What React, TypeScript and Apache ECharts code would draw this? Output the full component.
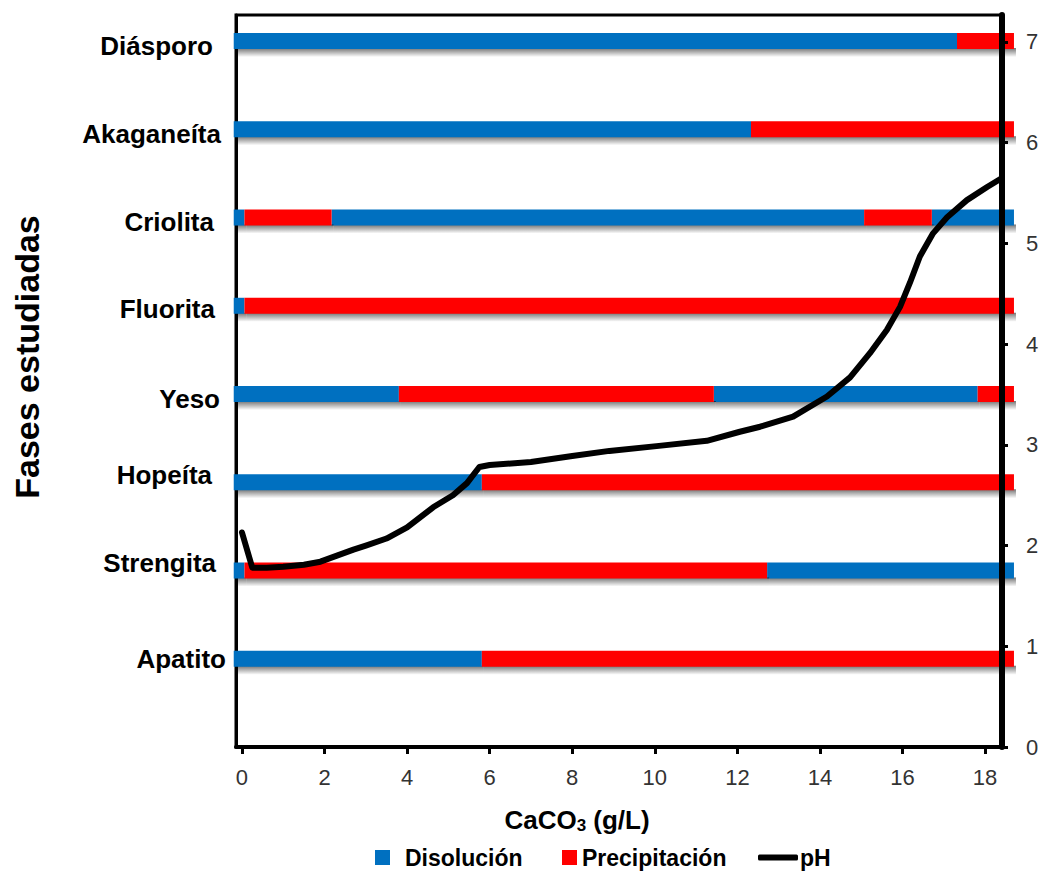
import React, { useEffect, useRef } from 'react';
import * as echarts from 'echarts';

// Category rows (bottom to top)
const categories = ['Apatito', 'Strengita', 'Hopeíta', 'Yeso', 'Fluorita', 'Criolita', 'Akaganeíta', 'Diásporo'];

// Segments: [category, from CaCO3, to CaCO3]
const disolucion: [string, number, number][] = [
  ['Diásporo', -0.2, 17.32],
  ['Akaganeíta', -0.2, 12.33],
  ['Criolita', -0.2, 0.06],
  ['Criolita', 2.17, 15.07],
  ['Criolita', 16.71, 18.7],
  ['Fluorita', -0.2, 0.06],
  ['Yeso', -0.2, 3.8],
  ['Yeso', 11.43, 17.82],
  ['Hopeíta', -0.2, 5.81],
  ['Strengita', -0.2, 0.06],
  ['Strengita', 12.72, 18.7],
  ['Apatito', -0.2, 5.81],
];

const precipitacion: [string, number, number][] = [
  ['Diásporo', 17.32, 18.7],
  ['Akaganeíta', 12.33, 18.7],
  ['Criolita', 0.06, 2.17],
  ['Criolita', 15.07, 16.71],
  ['Fluorita', 0.06, 18.7],
  ['Yeso', 3.8, 11.43],
  ['Yeso', 17.82, 18.7],
  ['Hopeíta', 5.81, 18.7],
  ['Strengita', 0.06, 12.72],
  ['Apatito', 5.81, 18.7],
];

// pH curve
const phX = [0, 0.25, 0.6, 1.0, 1.5, 1.9, 2.7, 3.0, 3.5, 4.0, 4.63, 5.11, 5.45, 5.75, 6.0, 7.0, 8.0, 8.9, 10.1, 11.26, 12.06, 12.55, 13.35, 14.17, 14.73, 15.21, 15.62, 15.94, 16.18, 16.42, 16.74, 17.08, 17.56, 18.05, 18.41];
const phY = [2.13, 1.78, 1.78, 1.79, 1.81, 1.84, 1.96, 2.0, 2.07, 2.18, 2.38, 2.5, 2.62, 2.78, 2.8, 2.83, 2.89, 2.94, 2.99, 3.04, 3.13, 3.18, 3.28, 3.48, 3.67, 3.91, 4.14, 4.37, 4.61, 4.87, 5.1, 5.26, 5.43, 5.56, 5.65];

const xTicks = [0, 2, 4, 6, 8, 10, 12, 14, 16, 18];
const phTicks = [0, 1, 2, 3, 4, 5, 6, 7];

// label style tweaks (per category, same order as categories)
const labelPadRight = [0, 10, 14, 6, 11, 12, 5, 13];
const labelShiftY = [0, -8, -7, 5, 3, 4, 5, 5];

const FONT = 'Liberation Sans, Arial, sans-serif';
const BLUE = '#0070C0';
const RED = '#FF0000';

const rowOf = (name: string) => categories.indexOf(name) + 1;

const makeRender = (color: string) => (params: any, api: any) => {
  const row = api.value(2);
  const p0 = api.coord([api.value(0), row]);
  const p1 = api.coord([api.value(1), row]);
  const w = p1[0] - p0[0];
  return {
    type: 'group',
    children: [
      {
        type: 'rect',
        shape: { x: p0[0] + 2, y: p0[1] + 7, width: w, height: 9 },
        style: {
          fill: new echarts.graphic.LinearGradient(0, 0, 0, 1, [
            { offset: 0, color: 'rgba(0,0,0,0.55)' },
            { offset: 0.45, color: 'rgba(0,0,0,0.3)' },
            { offset: 1, color: 'rgba(0,0,0,0)' },
          ]),
        },
      },
      {
        type: 'rect',
        shape: { x: p0[0], y: p0[1] - 8, width: w, height: 16 },
        style: { fill: color },
      },
    ],
  };
};

export default function App() {
  const ref = useRef<HTMLDivElement>(null);

  useEffect(() => {
    if (!ref.current) return;
    const chart = echarts.init(ref.current, undefined, { renderer: 'svg' });

    const rich: any = {};
    categories.forEach((c, i) => {
      const dy = labelShiftY[i];
      rich['r' + i] = {
        fontFamily: FONT,
        fontSize: 26,
        fontWeight: 'bold',
        color: '#000',
        padding: [Math.max(0, 2 * dy), labelPadRight[i], Math.max(0, -2 * dy), 0],
      };
    });

    const legendText = { fontFamily: FONT, fontSize: 23, fontWeight: 'bold', color: '#000' };

    const option: any = {
      animation: false,
      backgroundColor: '#fff',
      grid: {
        left: 236,
        right: 42,
        top: 15,
        bottom: 130,
        show: true,
        borderColor: '#000',
        borderWidth: 3,
        containLabel: false,
      },
      legend: [
        {
          data: ['Disolución'],
          left: 375,
          top: 846,
          padding: 0,
          itemWidth: 15,
          itemHeight: 15,
          icon: 'rect',
          selectedMode: false,
          textStyle: { ...legendText, padding: [0, 0, 0, 10] },
        },
        {
          data: ['Precipitación'],
          left: 562,
          top: 846,
          padding: 0,
          itemWidth: 15,
          itemHeight: 15,
          icon: 'rect',
          selectedMode: false,
          textStyle: legendText,
        },
        {
          data: ['pH'],
          left: 758,
          top: 846,
          padding: 0,
          itemWidth: 40,
          itemHeight: 6,
          icon: 'roundRect',
          selectedMode: false,
          textStyle: { ...legendText, padding: [0, 0, 0, -3] },
        },
      ],
      graphic: [
        {
          type: 'text',
          x: 27,
          y: 357,
          rotation: Math.PI / 2,
          style: {
            text: 'Fases estudiadas',
            font: `bold 34px ${FONT}`,
            fill: '#000',
            textAlign: 'center',
            textVerticalAlign: 'middle',
          },
        },
      ],
      xAxis: {
        type: 'value',
        min: -0.145,
        max: 18.41,
        name: '{a|CaCO}{s|3}{a| (g/L)}',
        nameLocation: 'middle',
        nameGap: 58,
        nameTextStyle: {
          padding: [0, 84, 0, 0],
          rich: {
            a: { fontFamily: FONT, fontSize: 26, fontWeight: 'bold', color: '#000' },
            s: { fontFamily: FONT, fontSize: 17, fontWeight: 'bold', color: '#000', padding: [12, 0, 0, 0] },
          },
        },
        axisLine: { show: true, onZero: false, lineStyle: { color: '#000', width: 4 } },
        axisTick: { show: true, customValues: xTicks, length: 7, lineStyle: { color: '#000', width: 3 } },
        axisLabel: {
          customValues: xTicks,
          fontFamily: FONT,
          fontSize: 22,
          color: '#333',
          margin: 19,
        },
        splitLine: { show: false },
      },
      yAxis: [
        {
          type: 'value',
          min: 0,
          max: 8.295,
          interval: 1,
          position: 'left',
          axisLine: { show: true, onZero: false, lineStyle: { color: '#000', width: 3 } },
          axisTick: { show: false },
          splitLine: { show: false },
          axisLabel: {
            margin: 10,
            formatter: (v: number) => {
              const i = Math.round(v) - 1;
              if (Math.abs(v - Math.round(v)) > 1e-6 || i < 0 || i >= categories.length) return '';
              return `{r${i}|${categories[i]}}`;
            },
            rich,
          },
        },
        {
          type: 'value',
          min: 0,
          max: 7.268,
          position: 'right',
          z: 10,
          axisLine: { show: true, onZero: false, lineStyle: { color: '#000', width: 6 } },
          axisTick: { show: true, customValues: phTicks, length: 6, lineStyle: { color: '#000', width: 3 } },
          axisLabel: {
            customValues: phTicks,
            fontFamily: FONT,
            fontSize: 22,
            color: '#333',
            margin: 24,
          },
          splitLine: { show: false },
        },
      ],
      series: [
        {
          name: 'Disolución',
          type: 'custom',
          clip: false,
          itemStyle: { color: BLUE },
          renderItem: makeRender(BLUE),
          encode: { x: [0, 1], y: 2 },
          data: disolucion.map(([c, a, b]) => [a, b, rowOf(c)]),
          z: 2,
        },
        {
          name: 'Precipitación',
          type: 'custom',
          clip: false,
          itemStyle: { color: RED },
          renderItem: makeRender(RED),
          encode: { x: [0, 1], y: 2 },
          data: precipitacion.map(([c, a, b]) => [a, b, rowOf(c)]),
          z: 2,
        },
        {
          name: 'pH',
          type: 'line',
          yAxisIndex: 1,
          showSymbol: false,
          symbol: 'none',
          smooth: false,
          itemStyle: { color: '#000' },
          lineStyle: { color: '#000', width: 6, join: 'round', cap: 'round' },
          data: phX.map((x, i) => [x, phY[i]]),
          z: 5,
        },
      ],
    };

    chart.setOption(option);
    return () => chart.dispose();
  }, []);

  return (
    <div
      ref={ref}
      style={{ position: 'fixed', left: 0, top: 0, width: 1044, height: 877, background: '#fff' }}
    />
  );
}
